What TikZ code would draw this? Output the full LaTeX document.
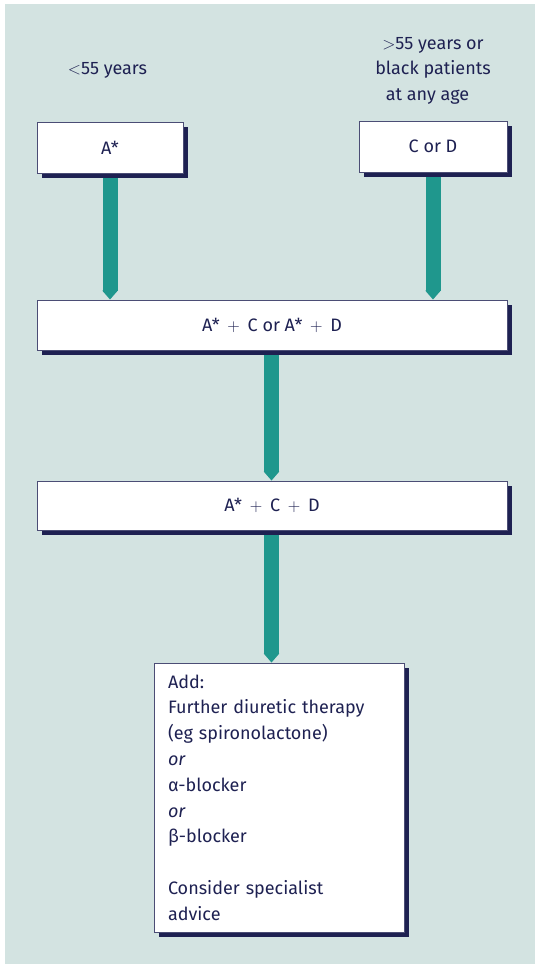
\documentclass[tikz,border=0pt]{standalone}
\usepackage{fontspec}
\setmainfont{Fira Sans}
\usetikzlibrary{arrows.meta,shadows,calc}
\definecolor{bgc}{HTML}{D3E3E1}
\definecolor{tealc}{HTML}{1F978D}
\definecolor{navy}{HTML}{1E2152}
\pgfdeclarelayer{bottom}
\pgfdeclarelayer{behind}
\pgfsetlayers{bottom,behind,main}
\newcommand{\plusop}{\kern3pt$+$\kern3pt}
\begin{document}
\begin{tikzpicture}[x=1pt,y=-1pt,
  txt/.style={text=navy,font=\fontsize{18}{25.8}\selectfont},
  box/.style={txt,draw=navy!80,line width=0.9pt,fill=white,inner sep=0pt,
    drop shadow={shadow xshift=5pt,shadow yshift=-5pt,fill=navy,opacity=1}},
  lbl/.style={txt,align=center,inner sep=0pt},
  flow/.style={draw=tealc,line width=15pt,-{Triangle[width=0pt 1,length=9pt]}}]
\useasboundingbox (0,0) rectangle (535,964);
\begin{pgfonlayer}{bottom}
  \fill[bgc] (5,4) rectangle (535,964);
\end{pgfonlayer}
% labels
\node[lbl] (young) at (107.5,70.6) {$<$55 years};
\node[lbl] (old) at (433,70.8) {$>$55 years or\\black patients\\\mbox{at any age\hspace*{11pt}}};
% boxes
\node[box,minimum width=146,minimum height=51] (a) at (110,147.5) {A*};
\node[box,minimum width=148,minimum height=51] (cd) at (433,146.5) {C or D};
\node[box,minimum width=470,minimum height=50] (ac) at (272,325) {A* \plusop{} C or A* \plusop{} D};
\node[box,minimum width=470,minimum height=49] (acd) at (272,505.5) {A* \plusop{} C \plusop{} D};
\node[box,minimum width=250,minimum height=269,text width=222,align=left,inner xsep=14pt] (add) at (279,797.5)
  {Add:\\Further diuretic therapy\\(eg spironolactone)\\\textit{or}\\α-blocker\\\textit{or}\\β-blocker\\[25.8pt]Consider specialist\\advice};
% connectors
\begin{pgfonlayer}{behind}
  \draw[flow] (a.south) -- (a.south |- ac.north);
  \draw[flow] (cd.south) -- (cd.south |- ac.north);
  \draw[flow] ($(ac.south)+(-0.5,0)$) -- ($(ac.south |- acd.north)+(-0.5,0)$);
  \draw[flow] ($(acd.south)+(-0.5,0)$) -- ($(acd.south |- add.north)+(-0.5,0)$);
\end{pgfonlayer}
\end{tikzpicture}
\end{document}
